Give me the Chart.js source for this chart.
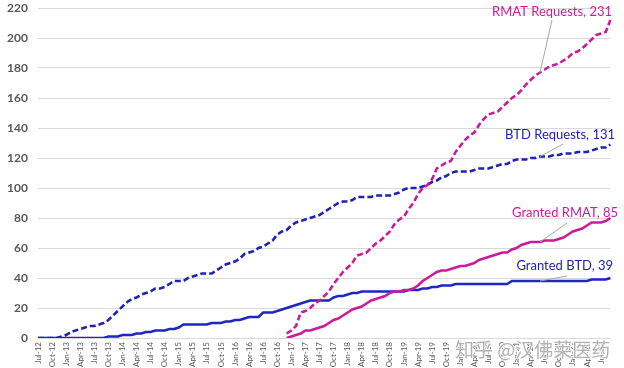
<!DOCTYPE html>
<html>
<head>
<meta charset="utf-8">
<script src="https://cdn.jsdelivr.net/npm/chart.js@4"></script>
<style>
  html, body { margin: 0; padding: 0; background: #fff; }
  #wrap { width: 624px; height: 368px; position: relative; }
</style>
</head>
<body>
<div id="wrap"><canvas id="myChart"></canvas></div>
<script>
// monthly categories Jul-12 .. Sep-22, labelled every quarter
const tickLabels = [
  'Jul-12','Oct-12','Jan-13','Apr-13','Jul-13','Oct-13','Jan-14','Apr-14','Jul-14','Oct-14',
  'Jan-15','Apr-15','Jul-15','Oct-15','Jan-16','Apr-16','Jul-16','Oct-16','Jan-17','Apr-17',
  'Jul-17','Oct-17','Jan-18','Apr-18','Jul-18','Oct-18','Jan-19','Apr-19','Jul-19','Oct-19',
  'Jan-20','Apr-20','Jul-20','Oct-20','Jan-21','Apr-21','Jul-21','Oct-21','Jan-22','Apr-22',
  'Jul-22'
];
const monthNames = ['Jan','Feb','Mar','Apr','May','Jun','Jul','Aug','Sep','Oct','Nov','Dec'];
const months = [];
for (let i = 0; i < 123; i++) {
  const m = (6 + i) % 12, y = 12 + Math.floor((6 + i) / 12);
  months.push(monthNames[m] + '-' + y);
}

const btdRequests = [
  0,0,0,0,0, 1,2,4,5,6, 7,8,8,9,10, 12,15,18,21,24,
  26,27,29,30,31, 33,33,34,36,38, 38,38,40,41,42, 43,43,43,45,47,
  49,50,51,53,56, 57,58,60,61,63, 65,69,71,72,75, 77,78,79,80,81,
  82,84,86,88,90, 91,91,92,94,94, 94,94,95,95,95, 95,96,97,99,100,
  100,100,101,102,104, 105,107,108,110,111, 111,111,111,112,113, 113,113,114,115,116,
  116,118,119,119,119, 120,120,121,121,121, 122,122,123,123,123, 124,124,124,125,126,
  127,127,129
];
const grantedBtd = [
  0,0,0,0,0, 0,0,0,0,0, 0,0,0,0,0, 1,1,1,2,2,
  2,3,3,4,4, 5,5,5,6,6, 7,9,9,9,9, 9,9,10,10,10,
  11,11,12,12,13, 14,14,14,17,17, 17,18,19,20,21, 22,23,24,25,25,
  25,25,25,27,28, 28,29,30,30,31, 31,31,31,31,31, 31,31,31,31,32,
  32,32,33,33,34, 34,35,35,35,36, 36,36,36,36,36, 36,36,36,36,36,
  36,38,38,38,38, 38,38,38,38,38, 38,38,38,38,38, 38,38,38,39,39,
  39,39,40
];
// RMAT designation starts Dec-16
const rmatStart = 53;
const rmatRequests = [
  3,5, 8,17,18,20,23, 25,28,31,36,40, 44,47,50,55,56, 57,60,63,65,68,
  71,76,79,81,86, 90,96,100,102,106, 113,115,117,118,124, 128,132,135,137,142,
  146,149,150,151,154, 157,160,162,165,169, 172,175,177,179,181, 182,183,185,187,190,
  191,193,196,199,202, 203,204,212
];
const grantedRmat = [
  0,1, 2,3,5,5,6, 7,8,10,12,13, 15,17,19,20,21, 23,25,26,27,28,
  30,31,31,32,32, 33,35,38,40,42, 44,45,45,46,47, 48,48,49,50,52,
  53,54,55,56,57, 57,59,60,62,63, 64,64,64,65,65, 65,66,67,69,71,
  72,73,75,77,77, 77,78,80
];
const pad = Array(rmatStart).fill(null);

const BLUE = '#1F22B5';
const BLUE2 = '#1F26C8';
const PINK = '#CC1A9B';

// callout labels: text, colour, dataset index, right edge / middle of text, leader start
const callouts = [
  { text: 'RMAT Requests, 231', color: PINK, ds: 0, tx: 612, ty: 12, lx: 552, ly: 20 },
  { text: 'BTD Requests, 131', color: BLUE, ds: 1, tx: 615, ty: 135, lx: 563, ly: 144 },
  { text: 'Granted RMAT, 85', color: PINK, ds: 2, tx: 618, ty: 213, lx: 567, ly: 223 },
  { text: 'Granted BTD, 39', color: BLUE, ds: 3, tx: 613, ty: 266, lx: 567, ly: 276 }
];
const calloutIndex = 107;

const calloutPlugin = {
  id: 'callouts',
  afterDatasetsDraw(chart) {
    const { ctx, scales } = chart;
    ctx.save();
    // watermark
    ctx.font = '19px "Noto Sans CJK SC"';
    ctx.textAlign = 'left';
    ctx.textBaseline = 'middle';
    ctx.lineWidth = 2;
    ctx.strokeStyle = 'rgba(255,255,255,0.8)';
    ctx.strokeText('知乎 @汉佛莱医药', 455, 350);
    ctx.fillStyle = 'rgba(160,160,160,0.8)';
    ctx.fillText('知乎 @汉佛莱医药', 455, 350);

    callouts.forEach((c) => {
      const v = chart.data.datasets[c.ds].data[calloutIndex];
      const px = scales.x.getPixelForValue(calloutIndex);
      const py = scales.y.getPixelForValue(v);
      ctx.strokeStyle = '#A6A6A6';
      ctx.lineWidth = 1;
      ctx.beginPath();
      ctx.moveTo(c.lx, c.ly);
      ctx.lineTo(px, py);
      ctx.stroke();
      ctx.font = '13px Lato';
      ctx.fillStyle = c.color;
      ctx.textAlign = 'right';
      ctx.textBaseline = 'middle';
      ctx.fillText(c.text, c.tx, c.ty);
    });
    ctx.restore();
  }
};

const ctx = document.getElementById('myChart');
new Chart(ctx, {
  type: 'line',
  data: {
    labels: months,
    datasets: [
      { label: 'RMAT Requests', data: pad.concat(rmatRequests), borderColor: PINK, borderDash: [6, 3], borderWidth: 2.6 },
      { label: 'BTD Requests', data: btdRequests, borderColor: BLUE, borderDash: [6, 3], borderWidth: 2.6 },
      { label: 'Granted RMAT', data: pad.concat(grantedRmat), borderColor: PINK, borderWidth: 2.6 },
      { label: 'Granted BTD', data: grantedBtd, borderColor: BLUE2, borderWidth: 2.6 }
    ]
  },
  options: {
    responsive: true,
    maintainAspectRatio: false,
    animation: false,
    layout: { padding: { top: 8, right: 13, left: 0, bottom: 0 } },
    elements: {
      point: { radius: 0 },
      line: { tension: 0, fill: false, borderCapStyle: 'butt' }
    },
    plugins: {
      legend: { display: false },
      tooltip: { enabled: false }
    },
    scales: {
      x: {
        grid: { display: false, drawTicks: false },
        border: { display: false },
        ticks: {
          autoSkip: false,
          maxRotation: 90,
          minRotation: 90,
          padding: 4,
          color: '#595959',
          font: { family: 'Lato', size: 8 },
          callback: (v, i) => (i % 3 === 0 ? tickLabels[i / 3] : '')
        },
        afterFit: (s) => { s.height = 30; }
      },
      y: {
        min: 0,
        max: 220,
        grid: { color: '#D9D9D9', drawTicks: true, tickLength: 10, tickColor: 'rgba(0,0,0,0)' },
        border: { display: false },
        ticks: {
          stepSize: 20,
          padding: 0,
          color: '#595959',
          font: { family: 'Lato', size: 12, weight: 'bold' }
        },
        afterFit: (s) => { s.width = 38; }
      }
    }
  },
  plugins: [calloutPlugin]
});
</script>
</body>
</html>
